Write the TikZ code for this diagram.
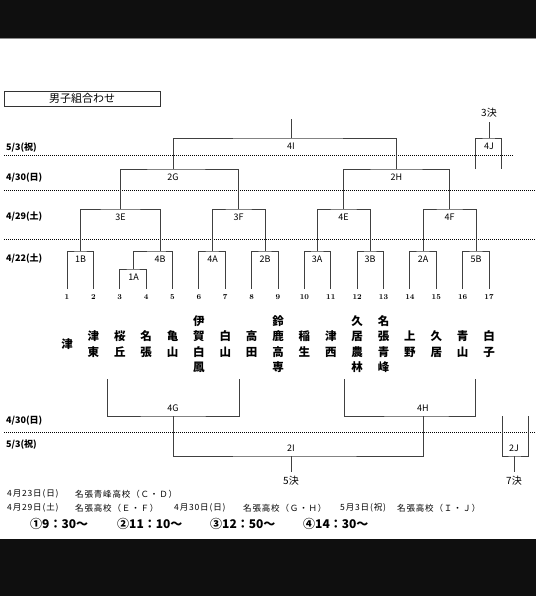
\documentclass[tikz,border=0pt]{standalone}
\usepackage{fontspec}
\newfontfamily\jp{Noto Sans CJK JP}
\newfontfamily\jpsp{Noto Sans CJK JP}[LetterSpace=10]
\usetikzlibrary{positioning}

\begin{document}
\begin{tikzpicture}[x=1pt, y=-1pt,
    sen/.style={draw=black!75, line width=0.8pt},
    tensen/.style={line width=0.6pt, dash pattern=on 1pt off 1pt},
    kumi/.style={font=\jp\fontsize{9}{10}\selectfont, inner sep=0pt},
    hizuke/.style={font=\jp\bfseries\fontsize{9}{10}\selectfont, anchor=west, inner sep=0pt},
    bango/.style={font=\bfseries\fontsize{7.5}{8}\selectfont, inner sep=0pt},
    gakko/.style={font=\jp\bfseries\fontsize{11.5}{15.5}\selectfont, align=center, inner sep=0pt},
    kessen/.style={font=\jp\fontsize{10}{11}\selectfont, inner sep=0pt},
    annai/.style={font=\jpsp\fontsize{8.5}{9}\selectfont, anchor=west, inner sep=0pt},
    jikan/.style={font=\jp\bfseries\fontsize{12}{13}\selectfont, anchor=west, inner sep=0pt}
  ]
    \useasboundingbox (0,0) rectangle (536,596);
    \fill[black!94] (0,0) rectangle (536,38);
    \fill[black!94] (0,539) rectangle (536,596);
    \draw[black!45, line width=1pt] (0,38.5) -- (536,38.5);

    \node[draw=black!80, line width=0.6pt, minimum width=156pt, minimum height=15pt,
          inner sep=0pt, font=\jp\fontsize{11}{12}\selectfont] (midashi) at (82,98.5) {男子組合わせ};

    \node[hizuke] (d53) at (6,148) {5/3(祝)};
    \node[hizuke] (d430) at (6,178) {4/30(日)};
    \node[hizuke] (d429) at (6,217) {4/29(土)};
    \node[hizuke] (d422) at (6,259) {4/22(土)};
    \node[hizuke] (e430) at (6,421) {4/30(日)};
    \node[hizuke] (e53) at (6,445) {5/3(祝)};
    \draw[tensen] (4,155) -- (514,155);
    \draw[tensen] (4,190) -- (536,190);
    \draw[tensen] (4,239) -- (536,239);
    \draw[tensen] (4,432) -- (536,432);

    \foreach \i in {1,...,17} {
      \coordinate (p\i) at ({67+(\i-1)*26.375}, 289);
      \node[bango] (n\i) at ({67+(\i-1)*26.375}, 297) {\i};
    }
    \foreach \i/\mei in {1/{津}, 2/{津\\東}, 3/{桜\\丘}, 4/{名\\張}, 5/{亀\\山},
        6/{伊\\賀\\白\\鳳}, 7/{白\\山}, 8/{高\\田}, 9/{鈴\\鹿\\高\\専}, 10/{稲\\生},
        11/{津\\西}, 12/{久\\居\\農\\林}, 13/{名\\張\\青\\峰}, 14/{上\\野},
        15/{久\\居}, 16/{青\\山}, 17/{白\\子}}
      \node[gakko] (s\i) at ([yshift=-55pt]p\i) {\mei};

    \coordinate (1A) at (133.5,269);
    \coordinate (1B) at (80.5,251);
    \coordinate (4B) at (160,251);
    \coordinate (4A) at (212.5,251);
    \coordinate (2B) at (265,251);
    \coordinate (3A) at (317,251);
    \coordinate (3B) at (370,251);
    \coordinate (2A) at (423,251);
    \coordinate (5B) at (476,251);
    \coordinate (3E) at (120.5,209);
    \coordinate (3F) at (238.5,209);
    \coordinate (4E) at (343.5,209);
    \coordinate (4F) at (449.5,209);
    \coordinate (2G) at (173,169);
    \coordinate (2H) at (396.5,169);
    \coordinate (4I) at (291,138);
    \coordinate (4Iue) at (291,119);
    \coordinate (4J) at (489,138);
    \coordinate (j1) at (475,169);
    \coordinate (j2) at (501,169);

    \draw[sen] (p3) |- (1A) -| (p4);
    \draw[sen] (p1) |- (1B) -| (p2);
    \draw[sen] (1A) |- (4B) -| (p5);
    \draw[sen] (p6) |- (4A) -| (p7);
    \draw[sen] (p8) |- (2B) -| (p9);
    \draw[sen] (p10) |- (3A) -| (p11);
    \draw[sen] (p12) |- (3B) -| (p13);
    \draw[sen] (p14) |- (2A) -| (p15);
    \draw[sen] (p16) |- (5B) -| (p17);
    \draw[sen] (1B) |- (3E) -| (4B);
    \draw[sen] (4A) |- (3F) -| (2B);
    \draw[sen] (3A) |- (4E) -| (3B);
    \draw[sen] (2A) |- (4F) -| (5B);
    \draw[sen] (3E) |- (2G) -| (3F);
    \draw[sen] (4E) |- (2H) -| (4F);
    \draw[sen] (2G) |- (4I) -| (2H);
    \draw[sen] (4I) -- (4Iue);
    \draw[sen] (j1) |- (4J) -| (j2);
    \node[kessen] (ketsu3) at (489,113) {3決};
    \draw[sen, shorten >=4pt] (4J) -- (ketsu3.south);

    \foreach \m in {1A,1B,4B,4A,2B,3A,3B,2A,5B,3E,3F,4E,4F,2G,2H,4I,4J}
      \node[kumi] (k\m) at ([yshift=-8.5pt]\m) {\m};

    \coordinate (g1) at (107,379);
    \coordinate (g2) at (239,379);
    \coordinate (h1) at (344,379);
    \coordinate (h2) at (475,379);
    \coordinate (4G) at (173,416);
    \coordinate (4H) at (423,416);
    \coordinate (2I) at (291,456);
    \coordinate (jj1) at (502,416);
    \coordinate (jj2) at (528,416);
    \coordinate (2J) at (514,456);

    \draw[sen] (g1) |- (4G) -| (g2);
    \draw[sen] (h1) |- (4H) -| (h2);
    \draw[sen] (4G) |- (2I) -| (4H);
    \draw[sen] (jj1) |- (2J) -| (jj2);
    \node[kessen] (ketsu5) at (291,481) {5決};
    \node[kessen] (ketsu7) at (514,481) {7決};
    \draw[sen, shorten >=4pt] (2I) -- (ketsu5.north);
    \draw[sen, shorten >=4pt] (2J) -- (ketsu7.north);

    \foreach \m in {4G,4H,2I,2J}
      \node[kumi] (k\m) at ([yshift=8pt]\m) {\m};

    \node[annai] (a1) at (7,494) {4月23日(日)};
    \node[annai] (a2) at (75,494) {名張青峰高校（Ｃ・Ｄ）};
    \node[annai] (b1) at (7,508) {4月29日(土)};
    \node[annai] (b2) at (75,508) {名張高校（Ｅ・Ｆ）};
    \node[annai] (b3) at (174,508) {4月30日(日)};
    \node[annai] (b4) at (243,508) {名張高校（Ｇ・Ｈ）};
    \node[annai] (b5) at (340,508) {5月3日(祝)};
    \node[annai] (b6) at (397,508) {名張高校（Ｉ・Ｊ）};
    \node[jikan] (t1) at (30,524) {①9：30～};
    \node[jikan] (t2) at (117,524) {②11：10～};
    \node[jikan] (t3) at (210,524) {③12：50～};
    \node[jikan] (t4) at (303,524) {④14：30～};
  \end{tikzpicture}
\end{document}
